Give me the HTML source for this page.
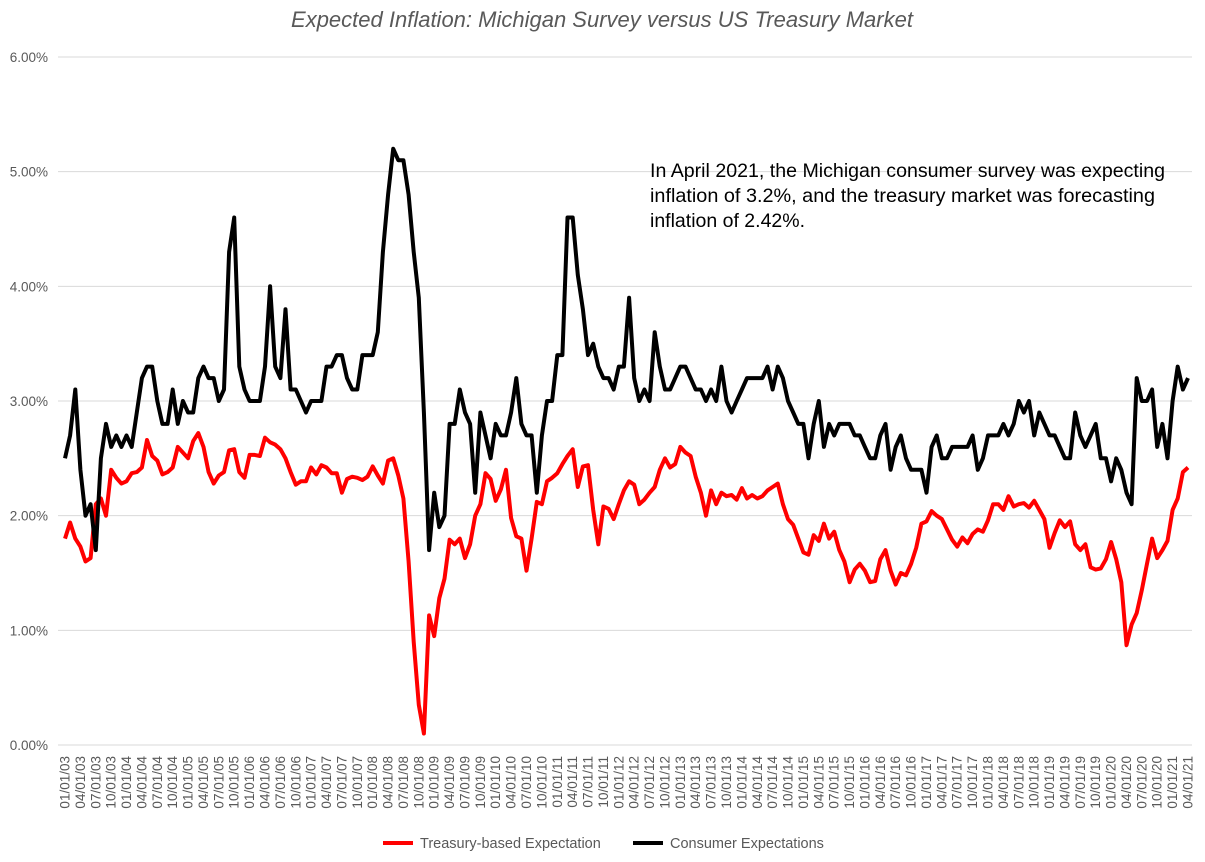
<!DOCTYPE html>
<html><head><meta charset="utf-8"><style>
body{margin:0;background:#fff;}
svg{display:block;font-family:"Liberation Sans",sans-serif;}
</style></head><body>
<svg id="chart" width="1205" height="862">
<text x="602" y="27" text-anchor="middle" font-size="22" font-style="italic" fill="#595959">Expected Inflation: Michigan Survey versus US Treasury Market</text>
<g id="grid"></g>
<g id="yticks"></g>
<g id="xticks"></g>
<g id="series"></g>
<g font-size="19.5" fill="#000">
<text x="650" y="177" textLength="515" lengthAdjust="spacingAndGlyphs">In April 2021, the Michigan consumer survey was expecting</text>
<text x="650" y="202" textLength="505" lengthAdjust="spacingAndGlyphs">inflation of 3.2%, and the treasury market was forecasting</text>
<text x="650" y="227">inflation of 2.42%.</text>
</g>
<g font-size="14.5" fill="#595959">
<line x1="383" y1="843" x2="413" y2="843" stroke="#ff0000" stroke-width="4"/>
<text x="420" y="848">Treasury-based Expectation</text>
<line x1="633" y1="843" x2="663" y2="843" stroke="#000" stroke-width="4"/>
<text x="670" y="848">Consumer Expectations</text>
</g>
</svg>
<script>
const yTicks = [0,1,2,3,4,5,6];
const consumer = [
2.5,2.7,3.1,2.4,2.0,2.1,1.7,2.5,2.8,2.6,2.7,2.6,
2.7,2.6,2.9,3.2,3.3,3.3,3.0,2.8,2.8,3.1,2.8,3.0,
2.9,2.9,3.2,3.3,3.2,3.2,3.0,3.1,4.3,4.6,3.3,3.1,
3.0,3.0,3.0,3.3,4.0,3.3,3.2,3.8,3.1,3.1,3.0,2.9,
3.0,3.0,3.0,3.3,3.3,3.4,3.4,3.2,3.1,3.1,3.4,3.4,
3.4,3.6,4.3,4.8,5.2,5.1,5.1,4.8,4.3,3.9,2.9,1.7,
2.2,1.9,2.0,2.8,2.8,3.1,2.9,2.8,2.2,2.9,2.7,2.5,
2.8,2.7,2.7,2.9,3.2,2.8,2.7,2.7,2.2,2.7,3.0,3.0,
3.4,3.4,4.6,4.6,4.1,3.8,3.4,3.5,3.3,3.2,3.2,3.1,
3.3,3.3,3.9,3.2,3.0,3.1,3.0,3.6,3.3,3.1,3.1,3.2,
3.3,3.3,3.2,3.1,3.1,3.0,3.1,3.0,3.3,3.0,2.9,3.0,
3.1,3.2,3.2,3.2,3.2,3.3,3.1,3.3,3.2,3.0,2.9,2.8,
2.8,2.5,2.8,3.0,2.6,2.8,2.7,2.8,2.8,2.8,2.7,2.7,
2.6,2.5,2.5,2.7,2.8,2.4,2.6,2.7,2.5,2.4,2.4,2.4,
2.2,2.6,2.7,2.5,2.5,2.6,2.6,2.6,2.6,2.7,2.4,2.5,
2.7,2.7,2.7,2.8,2.7,2.8,3.0,2.9,3.0,2.7,2.9,2.8,
2.7,2.7,2.6,2.5,2.5,2.9,2.7,2.6,2.7,2.8,2.5,2.5,
2.3,2.5,2.4,2.2,2.1,3.2,3.0,3.0,3.1,2.6,2.8,2.5,
3.0,3.3,3.1,3.2];
const treasury = [
1.80,1.94,1.80,1.73,1.60,1.63,2.10,2.15,2.00,2.40,2.33,2.28,
2.30,2.37,2.38,2.42,2.66,2.52,2.48,2.36,2.38,2.42,2.60,2.55,
2.50,2.65,2.72,2.60,2.38,2.28,2.35,2.38,2.57,2.58,2.38,2.33,
2.53,2.53,2.52,2.68,2.64,2.62,2.58,2.50,2.38,2.27,2.30,2.30,
2.42,2.36,2.44,2.42,2.37,2.37,2.20,2.32,2.34,2.33,2.31,2.34,
2.43,2.35,2.28,2.48,2.50,2.35,2.15,1.60,0.90,0.35,0.10,1.13,
0.95,1.28,1.45,1.79,1.75,1.80,1.63,1.75,2.00,2.10,2.37,2.32,
2.13,2.23,2.40,1.98,1.82,1.80,1.52,1.80,2.12,2.10,2.30,2.33,
2.37,2.45,2.52,2.58,2.25,2.43,2.44,2.05,1.75,2.08,2.06,1.97,
2.10,2.22,2.30,2.27,2.10,2.14,2.20,2.25,2.40,2.50,2.42,2.45,
2.60,2.55,2.52,2.34,2.20,2.00,2.22,2.10,2.20,2.17,2.18,2.14,
2.24,2.15,2.18,2.15,2.17,2.22,2.25,2.28,2.10,1.97,1.92,1.80,
1.68,1.66,1.83,1.78,1.93,1.80,1.86,1.70,1.60,1.42,1.53,1.58,
1.52,1.42,1.43,1.62,1.70,1.52,1.40,1.50,1.48,1.58,1.72,1.93,
1.95,2.04,2.00,1.97,1.88,1.79,1.73,1.81,1.76,1.84,1.88,1.86,
1.96,2.10,2.10,2.05,2.17,2.08,2.10,2.11,2.07,2.13,2.05,1.97,
1.72,1.85,1.96,1.90,1.95,1.75,1.70,1.75,1.55,1.53,1.54,1.62,
1.77,1.62,1.42,0.87,1.05,1.15,1.35,1.58,1.80,1.63,1.70,1.78,
2.05,2.15,2.38,2.42];
const startYear = 2003;

const NS='http://www.w3.org/2000/svg';
const n = consumer.length;
const x0=65, x1=1188, yBase=745, yTop=57, maxV=6;
function xs(i){return x0 + i*(x1-x0)/(n-1);}
function ys(v){return yBase - v*(yBase-yTop)/maxV;}
function mk(tag,attrs,parent){const e=document.createElementNS(NS,tag);for(const k in attrs)e.setAttribute(k,attrs[k]);parent.appendChild(e);return e;}
const grid=document.getElementById('grid'), yt=document.getElementById('yticks'), xt=document.getElementById('xticks'), ser=document.getElementById('series');
yTicks.forEach(v=>{
  const l=mk('line',{x1:58,x2:1192,y1:ys(v),y2:ys(v),stroke:'#d9d9d9','stroke-width':1},grid);
  
  
  const t=mk('text',{x:48,y:ys(v)+5,'text-anchor':'end','font-size':13.5,fill:'#595959'},yt);
  
  
  t.textContent=v.toFixed(2)+'%';
});
for(let i=0;i<n;i+=3){
  const m=(i%12)+1, yr=(startYear+Math.floor(i/12))%100;
  const label=String(m).padStart(2,'0')+'/01/'+String(yr).padStart(2,'0');
  const x=xs(i);
  const t=mk('text',{x:0,y:0,transform:`translate(${x+4.5},756) rotate(-90)`,'text-anchor':'end','font-size':13.5,fill:'#595959'},xt);
  
  
  t.textContent=label;
}
function path(arr,color,name){
  const d=arr.map((v,i)=>(i?'L':'M')+xs(i).toFixed(1)+','+ys(v).toFixed(1)).join('');
  const p=mk('path',{d:d,fill:'none',stroke:color,'stroke-width':4,'stroke-linejoin':'round'},ser);
  
  
}
path(treasury,'#ff0000','treasury-line');
path(consumer,'#000000','consumer-line');
</script>
</body></html>
